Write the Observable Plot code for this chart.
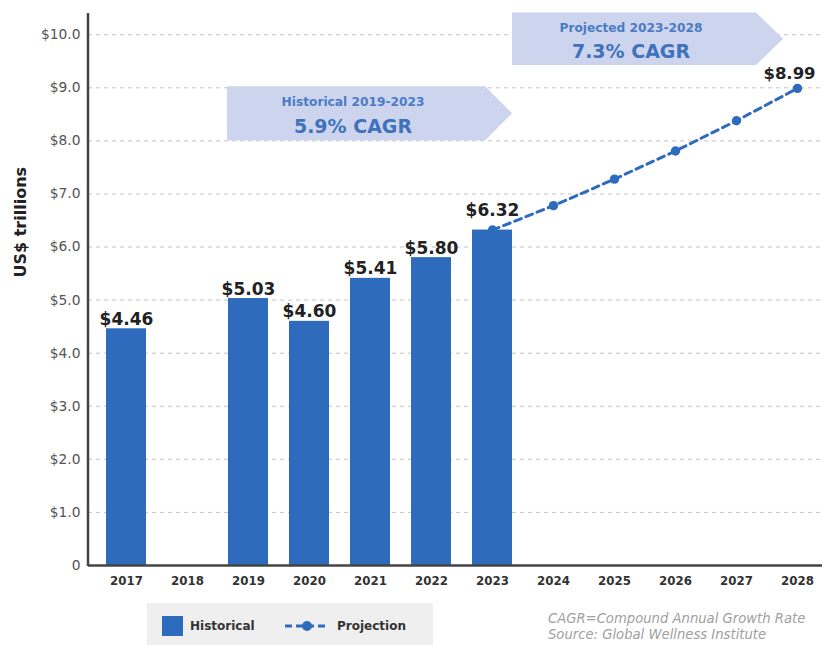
<!DOCTYPE html>
<html>
<head>
<meta charset="utf-8">
<script src="https://cdn.jsdelivr.net/npm/d3@7"></script>
<script src="https://cdn.jsdelivr.net/npm/@observablehq/plot@0.6"></script>
<style>
  html, body { margin: 0; padding: 0; background: #fff; }
  body { font-family: "DejaVu Sans", sans-serif; }
  #wrap { position: relative; width: 822px; height: 645px; overflow: hidden; }
  #legend { position: absolute; left: 147px; top: 603px; width: 286px; height: 45px; background: #efefef; }
  .lg-item { position: absolute; top: 15px; font-size: 12px; font-weight: 700; color: #333; line-height: 16px; }
  #caption { position: absolute; left: 548px; top: 611px; font-size: 13.2px; font-style: italic; color: #a0a0a0; line-height: 16px; }
</style>
</head>
<body>
<div id="wrap">
  <div id="chart"></div>
  <div id="legend">
    <svg style="position:absolute;left:15px;top:13px" width="21" height="20"><rect width="21" height="20" fill="#2e6bbd"></rect></svg>
    <div class="lg-item" style="left:43px">Historical</div>
    <svg style="position:absolute;left:137px;top:16px" width="46" height="14">
      <line x1="1" x2="45" y1="7" y2="7" stroke="#2e6bbd" stroke-width="3" stroke-dasharray="7,4"></line>
      <circle cx="23" cy="7" r="5" fill="#2e6bbd"></circle>
    </svg>
    <div class="lg-item" style="left:190px">Projection</div>
  </div>
  <div id="caption">CAGR=Compound Annual Growth Rate<br>Source: Global Wellness Institute</div>
</div>
<script>
// ---- data ----
const years = ["2017","2018","2019","2020","2021","2022","2023","2024","2025","2026","2027","2028"];
const histYears = ["2017","2019","2020","2021","2022","2023"];
const histValues = [4.46, 5.03, 4.60, 5.41, 5.80, 6.32];
const projYears = ["2023","2024","2025","2026","2027","2028"];
const projValues = [6.32, 6.78, 7.28, 7.81, 8.38, 8.99];
const yTicks = [0,1,2,3,4,5,6,7,8,9,10];
const annoTitles = ["Historical 2019-2023", "Projected 2023-2028"];
const annoRates = ["5.9% CAGR", "7.3% CAGR"];
const annoFrom = ["2019", "2023"];
const annoTo = ["2023", "2028"];

const hist = histYears.map((year, i) => ({year, value: histValues[i]}));
const proj = projYears.map((year, i) => ({year, value: projValues[i]}));

const BLUE = "#2e6bbd";
const FONT = "'DejaVu Sans', sans-serif";

function annotationMark(...args) {
  const s = args.find(a => a && typeof a.x === "function" && typeof a.y === "function");
  const dims = args.find(a => a && typeof a === "object" && "marginLeft" in a && "width" in a);
  const g = d3.create("svg:g");
  const sx = s.x, sy = s.y;
  const bw = typeof sx.bandwidth === "function" ? sx.bandwidth() : 40;
  // y axis line
  g.append("line")
    .attr("x1", dims.marginLeft).attr("x2", dims.marginLeft)
    .attr("y1", sy(10.4)).attr("y2", sy(0) + 1)
    .attr("stroke", "#444").attr("stroke-width", 2.5);
  const boxes = [
    {left: sx(annoFrom[0]) - 1, tip: sx(annoTo[0]) + bw, top: sy(9.02), bottom: sy(8.0)},
    {left: sx(annoFrom[1]) + bw, tip: sx(annoTo[1]) + bw * 0.15, top: sy(10.41), bottom: sy(9.42)}
  ];
  boxes.forEach((b, i) => {
    const depth = 27;
    const mid = (b.top + b.bottom) / 2;
    const right = b.tip - depth;
    g.append("path")
      .attr("d", `M${b.left},${b.top}L${right},${b.top}L${b.tip},${mid}L${right},${b.bottom}L${b.left},${b.bottom}Z`)
      .attr("fill", "#cdd4ee");
    const cx = (b.left + right) / 2 - 3;
    const h = b.bottom - b.top;
    g.append("text").attr("x", cx).attr("y", b.top + h * 0.29)
      .attr("text-anchor", "middle").attr("dominant-baseline", "central")
      .attr("font-family", FONT).attr("font-size", 12.2).attr("font-weight", 700)
      .attr("fill", "#4a7cc4").text(annoTitles[i]);
    g.append("text").attr("x", cx).attr("y", b.top + h * 0.74)
      .attr("text-anchor", "middle").attr("dominant-baseline", "central")
      .attr("font-family", FONT).attr("font-size", 19).attr("font-weight", 700)
      .attr("fill", "#3f72bd").text(annoRates[i]);
  });
  return g.node();
}

const labelStyle = {fontSize: 17, fontWeight: 700, fill: "#222", lineAnchor: "bottom", fontFamily: FONT};

const chart = Plot.plot({
  width: 822,
  height: 600,
  marginLeft: 88,
  marginRight: 0,
  marginTop: 13,
  marginBottom: 35,
  style: {fontFamily: FONT, background: "transparent", overflow: "visible"},
  x: {domain: years, paddingInner: 0.34, paddingOuter: 0.177, align: 0.78, label: null},
  y: {domain: [0, 10.4], label: null},
  marks: [
    Plot.gridY(yTicks.filter(d => d > 0), {stroke: "#c4c4c4", strokeOpacity: 1, strokeDasharray: "4,4", strokeWidth: 1}),
    annotationMark,
    Plot.barY(hist, {x: "year", y: "value", fill: BLUE}),
    Plot.ruleY([0], {stroke: "#444", strokeWidth: 2.5}),
    Plot.line(proj, {x: "year", y: "value", stroke: BLUE, strokeWidth: 3, strokeDasharray: "7,5"}),
    Plot.dot(proj, {x: "year", y: "value", r: 4.7, fill: BLUE}),
    Plot.text(hist.filter(d => d.year !== "2023"), {x: "year", y: "value", text: d => "$" + d.value.toFixed(2), dy: -4, ...labelStyle}),
    Plot.text(hist.filter(d => d.year === "2023"), {x: "year", y: "value", text: d => "$" + d.value.toFixed(2), dy: -14, ...labelStyle}),
    Plot.text(proj.filter(d => d.year === "2028"), {x: "year", y: "value", text: d => "$" + d.value.toFixed(2), dy: -9, dx: -8, ...labelStyle, fontSize: 16.5}),
    Plot.axisY({ticks: yTicks, tickFormat: d => d === 0 ? "0" : "$" + d.toFixed(1), tickSize: 0, tickPadding: 8, fontSize: 13.8, fill: "#555", label: null}),
    Plot.axisX({tickSize: 0, tickPadding: 11, fontSize: 11.8, fontWeight: 700, fill: "#333", label: null}),
    Plot.text(["US$ trillions"], {frameAnchor: "left", dx: -68, dy: -12, rotate: -90, fontSize: 16, fontWeight: 700, fill: "#222", fontFamily: FONT})
  ]
});
document.getElementById("chart").appendChild(chart);
</script>
</body>
</html>
